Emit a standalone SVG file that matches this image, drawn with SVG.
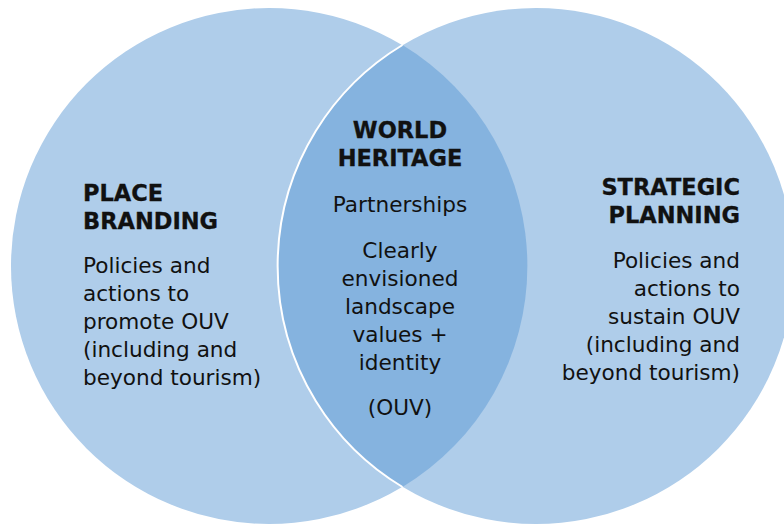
<svg xmlns="http://www.w3.org/2000/svg" width="784" height="524" viewBox="0 0 784 524">
  <style>
    .set { fill: #AFCDEA; }
    .lens { fill: #85B3DF; }
    .edge { fill: none; stroke: #FFFFFF; stroke-width: 2; }
    text { font-family: "DejaVu Sans", Verdana, sans-serif; font-size: 21.6px; fill: #111111; }
    .head { font-weight: bold; font-size: 22.5px; stroke: #111111; stroke-width: 0.3; }
    .mid { text-anchor: middle; }
    .end { text-anchor: end; }
  </style>
  <rect width="784" height="524" fill="#FFFFFF"/>

  <g id="place-branding">
    <circle class="set" cx="269" cy="266" r="258"/>
  </g>
  <g id="strategic-planning">
    <circle class="set" cx="536" cy="266" r="258"/>
  </g>
  <g id="world-heritage">
    <!-- overlap of the two sets -->
    <path class="lens" d="M402.5,45 A258,258 0 0 1 402.5,487 A258,258 0 0 1 402.5,45 Z"/>
  </g>
  <g id="connectors">
    <!-- white rim of the right set across the overlap -->
    <path class="edge" d="M402.5,45 A258,258 0 0 0 402.5,487"/>
  </g>

  <g id="place-branding-text">
    <text class="head" x="83" y="201">PLACE</text>
    <text class="head" x="83" y="229">BRANDING</text>
    <text x="83" y="273">Policies and</text>
    <text x="83" y="301">actions to</text>
    <text x="83" y="329">promote OUV</text>
    <text x="83" y="357">(including and</text>
    <text x="83" y="385">beyond tourism)</text>
  </g>

  <g id="strategic-planning-text">
    <text class="head end" x="740" y="195">STRATEGIC</text>
    <text class="head end" x="740" y="223">PLANNING</text>
    <text class="end" x="740" y="268">Policies and</text>
    <text class="end" x="740" y="296">actions to</text>
    <text class="end" x="740" y="324">sustain OUV</text>
    <text class="end" x="740" y="352">(including and</text>
    <text class="end" x="740" y="380">beyond tourism)</text>
  </g>

  <g id="world-heritage-text">
    <text class="head mid" x="400" y="138">WORLD</text>
    <text class="head mid" x="400" y="166">HERITAGE</text>
    <text class="mid" x="400" y="212">Partnerships</text>
    <text class="mid" x="400" y="258">Clearly</text>
    <text class="mid" x="400" y="286">envisioned</text>
    <text class="mid" x="400" y="314">landscape</text>
    <text class="mid" x="400" y="342">values +</text>
    <text class="mid" x="400" y="370">identity</text>
    <text class="mid" x="400" y="415">(OUV)</text>
  </g>
</svg>
